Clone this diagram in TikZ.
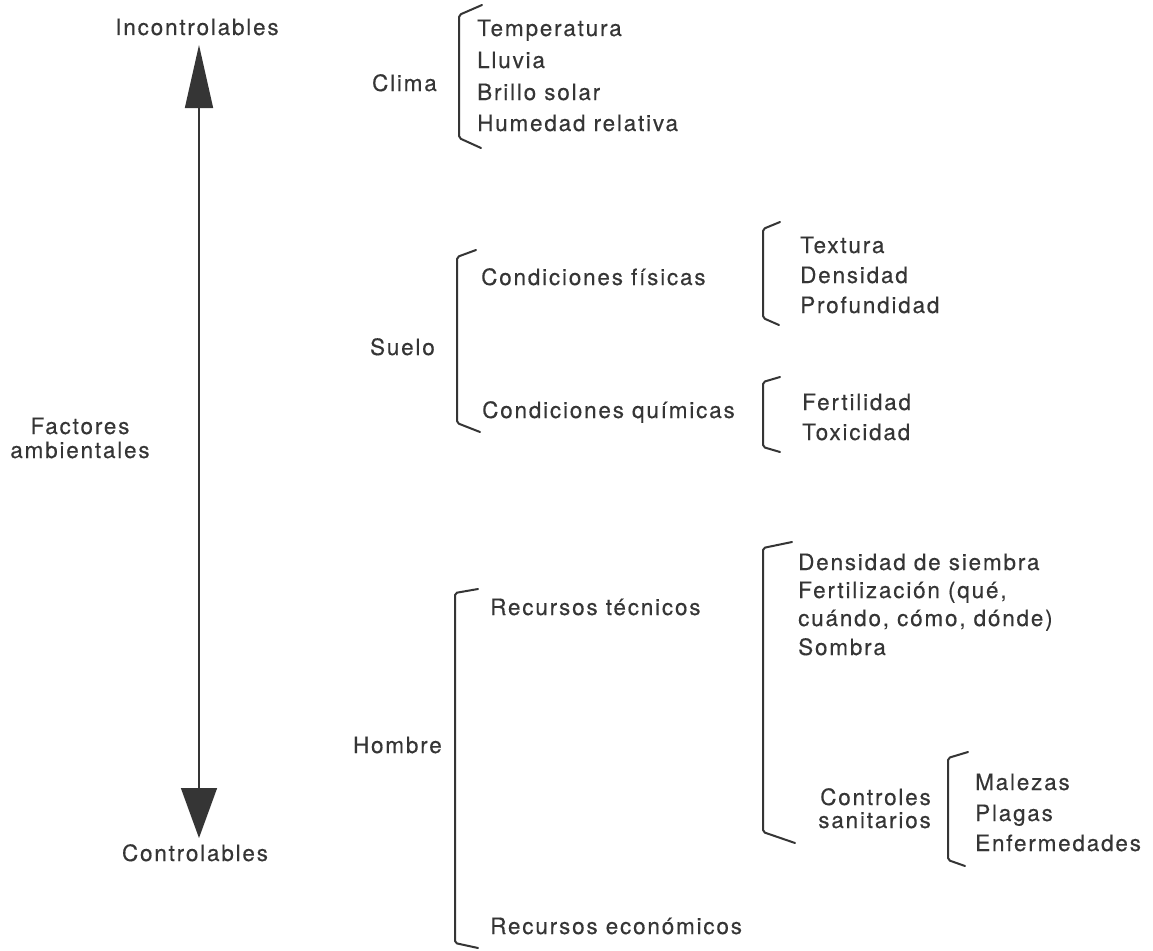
\documentclass[tikz,border=0pt]{standalone}
\usepackage{fontspec}
\setmainfont{TeX Gyre Heros}[LetterSpace=8,FakeBold=0.3]
\usetikzlibrary{arrows.meta}
\definecolor{ink}{HTML}{353535}
\begin{document}
\begin{tikzpicture}[x=1pt,y=-1pt,
  txt/.style={font=\fontsize{22.5}{30}\selectfont, text=ink, inner sep=0pt, text height=16pt, text depth=0pt},
  lt/.style={txt, anchor=west},
  rt/.style={txt, anchor=east},
  ct/.style={txt, anchor=center},
  brk/.style={draw=ink, line width=2pt, rounded corners=2pt, line join=round, line cap=round}]
\useasboundingbox[fill=white] (0,0) rectangle (1153,950);

% main axis
\node[ct] (inc) at (197,27) {Incontrolables};
\node[ct] (ctrl) at (195,853) {Controlables};
\node[ct] (fac1) at (80,426) {Factores};
\node[ct] (fac2) at (80,450) {ambientales};
\coordinate (atop) at (199,45);
\coordinate (abot) at (199,838);
\draw[ink, line width=1.5pt, {Triangle[length=63pt,width=28pt]}-{Triangle[length=50pt,width=36pt]}] (atop) -- (abot);

% Clima
\node[rt] (clima) at (437,83) {Clima};
\draw[brk] (482,5) -- (459,15) -- (459,138) -- (481,148);
\node[lt] (temp) at (477,28) {Temperatura};
\node[lt] (lluv) at (477,60) {Lluvia};
\node[lt] (bril) at (477,92) {Brillo solar};
\node[lt] (hume) at (477,123) {Humedad relativa};

% Suelo
\node[rt] (suelo) at (435,347) {Suelo};
\draw[brk] (476,250) -- (457,257) -- (457,423) -- (480,432);
\node[lt] (fis) at (481,277) {Condiciones físicas};
\node[lt] (qui) at (482,410) {Condiciones químicas};
\draw[brk] (780,222) -- (763,229) -- (763,318) -- (779,325);
\node[lt] (text) at (800,245) {Textura};
\node[lt] (dens) at (800,275) {Densidad};
\node[lt] (prof) at (800,305) {Profundidad};
\draw[brk] (780,377) -- (763,382) -- (763,447) -- (780,452);
\node[lt] (fert) at (802,402) {Fertilidad};
\node[lt] (toxi) at (802,432) {Toxicidad};

% Hombre
\node[rt] (hombre) at (442,745) {Hombre};
\draw[brk] (478,589) -- (455,593) -- (455,943) -- (478,948);
\node[lt] (rtec) at (490,607) {Recursos técnicos};
\node[lt] (reco) at (490,926) {Recursos económicos};
\draw[brk] (792,542) -- (763,548) -- (763,832) -- (795,843);
\node[lt] (dsie) at (798,562) {Densidad de siembra};
\node[lt] (fer1) at (798,590) {Fertilización (qué,};
\node[lt] (fer2) at (798,618) {cuándo, cómo, dónde)};
\node[lt] (somb) at (798,647) {Sombra};
\node[rt] (cs1) at (931,797) {Controles};
\node[rt] (cs2) at (931,820) {sanitarios};
\draw[brk] (968,752) -- (948,758) -- (948,860) -- (965,866);
\node[lt] (male) at (975,782) {Malezas};
\node[lt] (plag) at (975,813) {Plagas};
\node[lt] (enfe) at (975,843) {Enfermedades};
\end{tikzpicture}
\end{document}
